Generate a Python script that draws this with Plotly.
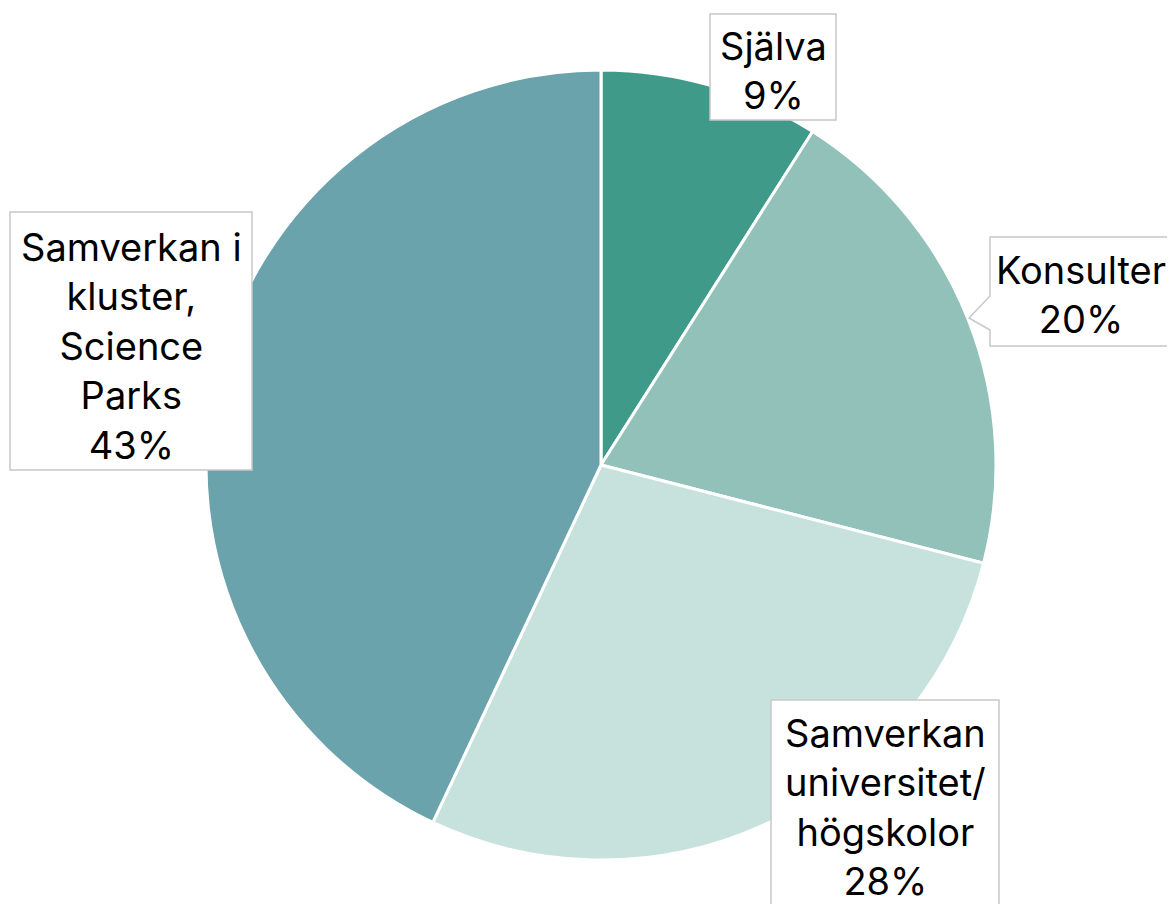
import plotly.graph_objects as go

labels = ["Själva", "Konsulter", "Samverkan universitet/högskolor", "Samverkan i kluster, Science Parks"]
values = [9, 20, 28, 43]
colors = ["#409a8a", "#91c1b9", "#c7e1dc", "#6aa3ab"]
label_texts = ["Själva<br>9%", "Konsulter<br>20%", "Samverkan<br>universitet/<br>högskolor<br>28%",
               "Samverkan i<br>kluster,<br>Science<br>Parks<br>43%"]

OFF = 8  # page body margin offset
W, H = 1175 - OFF, 904 - OFF
def px(x):
    return (x - OFF) / W
def py(y):
    return 1 - (y - OFF) / H

cx, cy, r = 601, 465, 395

fig = go.Figure(go.Pie(
    labels=labels, values=values, sort=False, direction="clockwise", rotation=0,
    marker=dict(colors=colors, line=dict(color="white", width=3)),
    textinfo="none", hoverinfo="label+percent", showlegend=False,
    domain=dict(x=[px(cx - r), px(cx + r)], y=[py(cy + r), py(cy - r)]),
))

border = "#c8c8c8"
shapes = []
shapes.append(dict(type="rect", xref="paper", yref="paper", x0=px(710), x1=px(836), y0=py(120), y1=py(14),
                   fillcolor="white", line=dict(color=border, width=1.5)))
path = (f"M {px(990)},{py(237)} L {px(1195)},{py(237)} L {px(1195)},{py(346)} L {px(990)},{py(346)} "
        f"L {px(990)},{py(330)} L {px(969)},{py(318)} L {px(990)},{py(296)} Z")
shapes.append(dict(type="path", xref="paper", yref="paper", path=path,
                   fillcolor="white", line=dict(color=border, width=1.5)))
shapes.append(dict(type="rect", xref="paper", yref="paper", x0=px(10), x1=px(252), y0=py(470), y1=py(212),
                   fillcolor="white", line=dict(color=border, width=1.5)))
shapes.append(dict(type="rect", xref="paper", yref="paper", x0=px(771), x1=px(999), y0=py(930), y1=py(700),
                   fillcolor="white", line=dict(color=border, width=1.5)))

text_pos = [(773, 70), (1081, 294), (885, 807), (131, 346)]
annotations = []
for t, (x, y) in zip(label_texts, text_pos):
    annotations.append(dict(text=t, x=px(x), y=py(y), xref="paper", yref="paper", showarrow=False,
                            xanchor="center", yanchor="middle", align="center",
                            font=dict(family="Inter", size=38, color="black")))

fig.update_layout(width=W, height=H, margin=dict(l=0, r=0, t=0, b=0),
                  paper_bgcolor="white", plot_bgcolor="white",
                  shapes=shapes, annotations=annotations)
fig.write_html("out.html")
